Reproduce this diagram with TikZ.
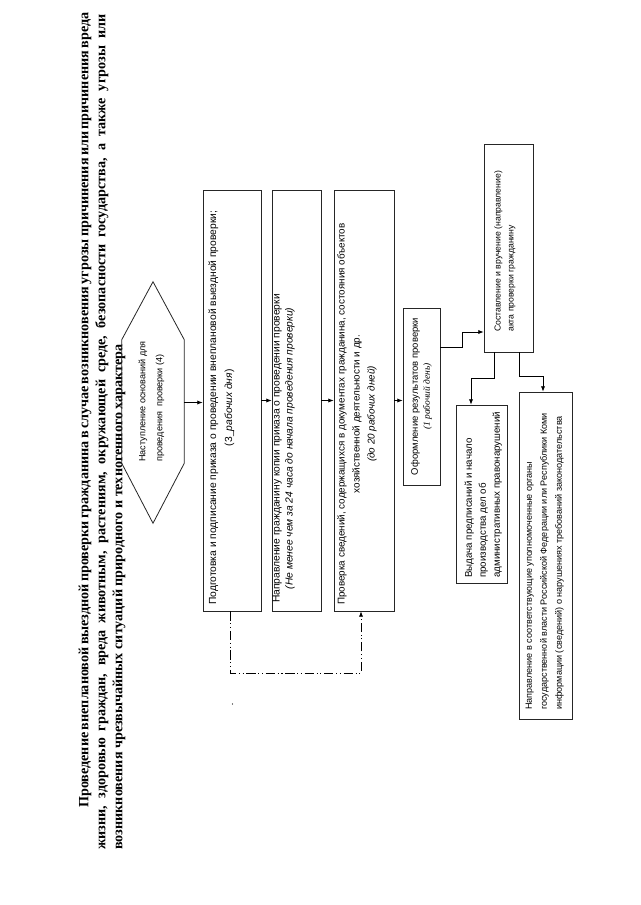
\documentclass[tikz,border=0pt]{standalone}
\usepackage{fontspec}
\setmainfont{Liberation Serif}
\setsansfont{Liberation Sans}
\usetikzlibrary{arrows.meta,calc}
\begin{document}
\begin{tikzpicture}[x=0.75pt,y=-0.75pt,
  boxn/.style={draw=black!85, line width=0.6pt, inner sep=0pt},
  txt/.style={rotate=90, inner sep=0pt, anchor=north west},
  arr/.style={line width=0.6pt, -{Latex[length=4pt,width=3.2pt]}},
  ln/.style={line width=0.6pt, draw=black!85},
  dashdot/.style={dash pattern=on 7pt off 2pt on 0.8pt off 2pt on 0.8pt off 2pt},
  ttl/.style={rotate=90, anchor=base west, inner sep=0pt, font=\bfseries\fontsize{10.6}{13}\selectfont}]
\useasboundingbox (0,0) rectangle (640,905);
\fill[white] (0,0) rectangle (640,905);

% title
\node[ttl] (tl1) at (88.3,808) {\makebox[594.75pt][s]{Проведение внеплановой выездной проверки гражданина в случае возникновения угрозы причинения или причинения вреда}};
\node[ttl] (tl2) at (105.3,850) {\makebox[626.25pt][s]{жизни, здоровью граждан, вреда животным, растениям, окружающей среде, безопасности государства, а также угрозы или}};
\node[ttl] (tl3) at (122.3,850) {возникновения чрезвычайных ситуаций природного и техногенного характера};

% hexagon
\node[inner sep=0pt, minimum width=46.5pt, minimum height=180.75pt] (hex) at (153,402.5) {};
\draw[ln] (hex.north) -- ($(hex.north west)+(0,58)$) -- ($(hex.south west)+(0,-60)$) -- (hex.south) -- ($(hex.south east)+(0,-60)$) -- ($(hex.north east)+(0,58)$) -- cycle;
\node[txt, align=left, font=\sffamily\fontsize{6.8}{12.75}\selectfont] (th) at (138.3,462) {Наступление оснований для\\проведения\ \ проверки (4)};

% boxes
\node[boxn, minimum width=43.5pt, minimum height=315.75pt] (b1) at (232,400.5) {};
\node[boxn, minimum width=36.75pt, minimum height=315.75pt] (b2) at (296.5,400.5) {};
\node[boxn, minimum width=45pt, minimum height=315.75pt] (b3) at (364,400.5) {};
\node[boxn, minimum width=27.75pt, minimum height=132.75pt] (b4) at (421.5,396.5) {};
\node[boxn, minimum width=36.75pt, minimum height=156pt] (b5) at (508.5,248) {};
\node[boxn, minimum width=38.25pt, minimum height=133.5pt] (b6) at (481.5,494) {};
\node[boxn, minimum width=39.75pt, minimum height=245.25pt] (b7) at (545.5,555.5) {};

% texts
\node[txt, align=center, font=\sffamily\fontsize{7.7}{12}\selectfont] (t1) at (208.3,605) {Подготовка и подписание приказа о проведении внеплановой выездной проверки;\\(3\_\textit{рабочих дня})};
\node[txt, align=center, font=\sffamily\fontsize{7.7}{9.75}\selectfont] (t2) at (272.3,603) {Направление гражданину копии приказа о проведении проверки\\\textit{(Не менее чем за 24 часа до начала проведения проверки)}};
\node[txt, align=center, font=\sffamily\fontsize{7.4}{11.25}\selectfont] (t3) at (337,605) {Проверка сведений, содержащихся в документах гражданина, состояния объектов\\хозяйственной деятельности и др.\\\textit{(до 20 рабочих дней)}};
\node[rotate=90, inner sep=0pt, align=center, font=\sffamily\fontsize{7.1}{9}\selectfont] (t4) at (421.5,396.5) {Оформление результатов проверки\\{\rmfamily\itshape (1 рабочий день)}};
\node[txt, align=left, font=\sffamily\fontsize{6.5}{9.75}\selectfont] (t5) at (494,332) {Составление и вручение (направление)\\акта проверки гражданину};
\node[txt, align=left, font=\sffamily\fontsize{7.3}{10.5}\selectfont] (t6) at (464.3,578) {Выдача предписаний и начало\\производства дел об\\административных правонарушений};
\node[txt, align=left, font=\sffamily\fontsize{6.8}{11.25}\selectfont] (t7) at (525.3,710) {Направление в соответствующие уполномоченные органы\\государственной власти Российской Федерации или Республики Коми\\информации (сведений) о нарушениях требований законодательства};

% connectors
\draw[arr] (hex.east) -- (hex.east -| b1.west);
\draw[arr] (b1.east) -- (b2.west);
\draw[arr] (b2.east) -- (b3.west);
\draw[arr] (b3.east) -- (b3.east -| b4.west);
\coordinate (j1) at (462,347);
\coordinate (j2) at (462,332);
\draw[arr] (b4.east |- j1) -- (j1) -- (j2) -- (b5.west |- j2);
\coordinate (j3) at (494,378);
\coordinate (j4) at (471,378);
\draw[arr] (b5.south -| j3) -- (j3) -- (j4) -- (j4 |- b6.north);
\coordinate (j5) at (519,376);
\coordinate (j6) at (543,376);
\draw[arr] (b5.south -| j5) -- (j5) -- (j6) -- (j6 |- b7.north);
\coordinate (d1) at (230,673);
\coordinate (d2) at (361,673);
\draw[arr, dashdot] (b1.south -| d1) -- (d1) -- (d2) -- (d2 |- b3.south);
\fill (232.5,704) circle (0.5pt);
\end{tikzpicture}
\end{document}
